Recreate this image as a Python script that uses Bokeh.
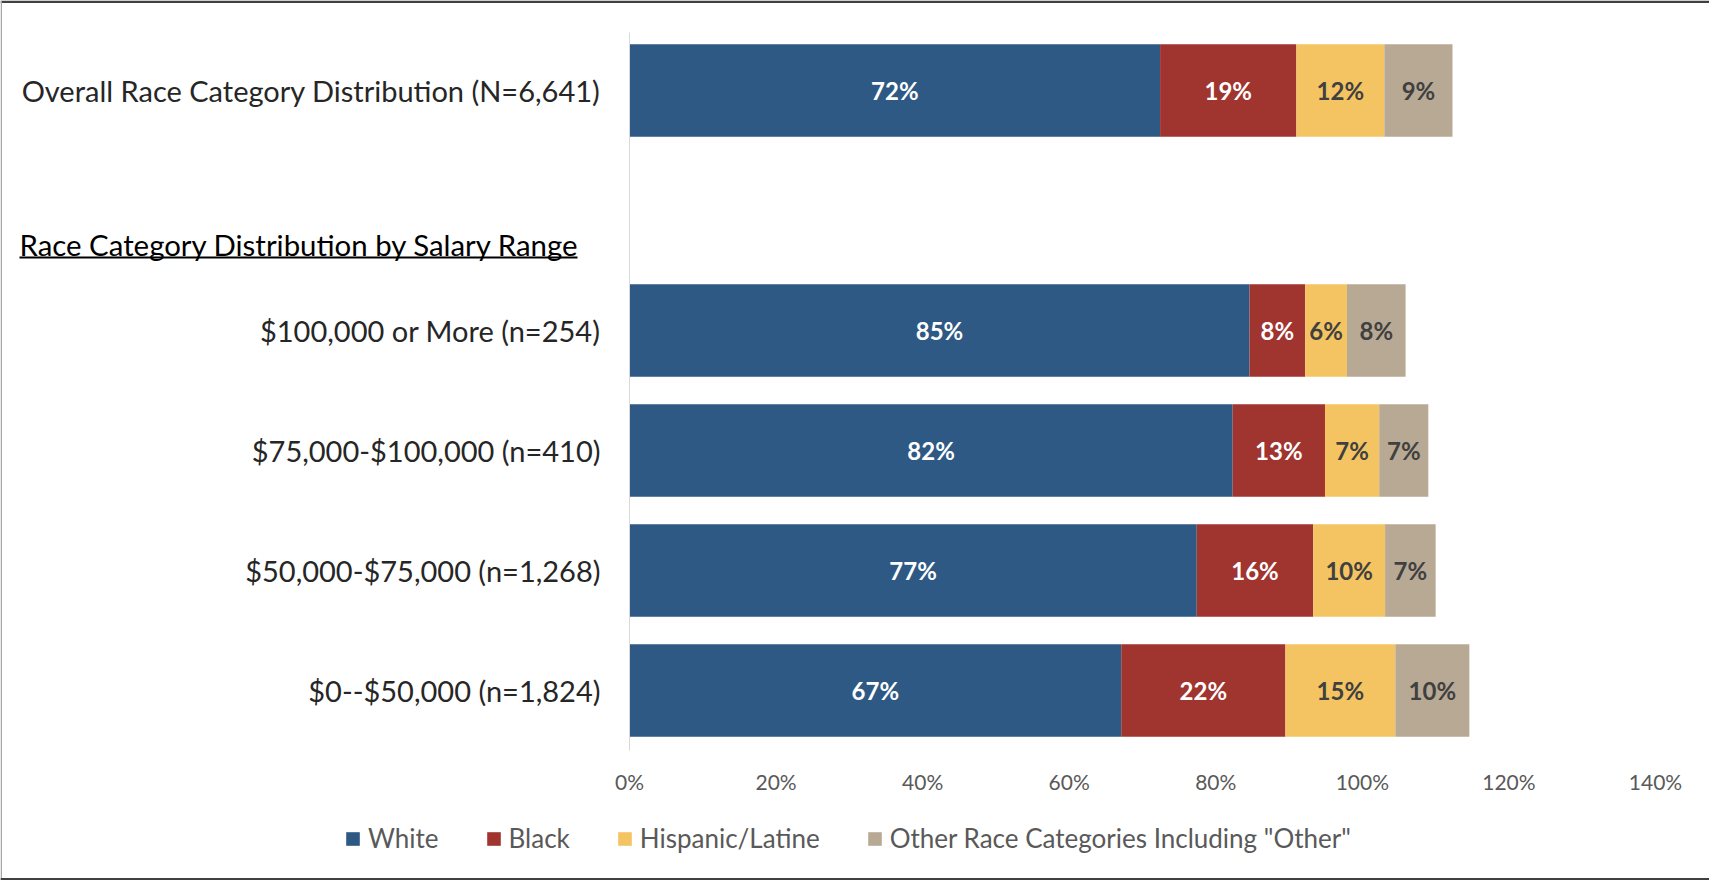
from bokeh.plotting import figure
from bokeh.models import (ColumnDataSource, Range1d, PrintfTickFormatter, LinearAxis,
                          FixedTicker, Label, BoxAnnotation, Legend, LegendItem)
from bokeh.core.properties import value
from bokeh.embed import file_html
from bokeh.resources import INLINE

# ---------------- data ----------------
categories = [
    "$0--$50,000 (n=1,824)",
    "$50,000-$75,000 (n=1,268)",
    "$75,000-$100,000 (n=410)",
    "$100,000 or More (n=254)",
    "Overall Race Category Distribution (N=6,641)",
]
white = [67.1, 77.4, 82.3, 84.6, 72.4]
black = [22.4, 15.9, 12.6, 7.6, 18.6]
hispanic = [15.0, 9.8, 7.4, 5.7, 12.0]
other = [10.1, 6.9, 6.7, 8.0, 9.3]
series_names = ["White", "Black", "Hispanic/Latine", 'Other Race Categories Including "Other"']
x_ticks = [0, 20, 40, 60, 80, 100, 120, 140]
header = "Race Category Distribution by Salary Range"

# ---------------- style / layout ----------------
colors = ["#2E5984", "#A0342F", "#F5C462", "#B8A994"]
label_colors = ["#FFFFFF", "#FFFFFF", "#404040", "#404040"]
FONT = "Lato"

W, H = 1709, 880
FL, FR, FB = 629, 1655, 750      # pixel positions of 0%, 140% and the bars' baseline
SLOT = 120.0                     # pixels per row
XMAX = 140.0

def px_x(px):
    return (px - FL) / (FR - FL) * XMAX

def px_y(py):
    return (FB - py) / SLOT

# rows from bottom to top; an empty row separates the overall bar
rows = categories[:4] + [None] + categories[4:]
ypos = {c: i + 0.5 for i, c in enumerate(rows) if c is not None}

p = figure(width=W, height=H,
           x_range=Range1d(px_x(0), px_x(W)), y_range=Range1d(px_y(H), px_y(0)),
           min_border=0, x_axis_location=None, y_axis_location=None,
           output_backend="svg", toolbar_location=None)
p.outline_line_color = None
p.grid.visible = False
p.background_fill_color = "white"
p.border_fill_color = "white"

fields = ["white", "black", "hispanic", "other"]
src = ColumnDataSource(dict(y=[ypos[c] for c in categories], white=white, black=black,
                            hispanic=hispanic, other=other))
rs = p.hbar_stack(fields, y="y", height=0.77, color=colors, source=src, line_width=0)

# value labels
lx, ly, lt, lc = [], [], [], []
for i, cat in enumerate(categories):
    start = 0.0
    for series, col in zip([white, black, hispanic, other], label_colors):
        v = series[i]
        lx.append(start + v / 2.0)
        ly.append(ypos[cat])
        lt.append(f"{round(v)}%")
        lc.append(col)
        start += v
lsrc = ColumnDataSource(dict(x=lx, y=ly, t=lt, c=lc))
p.text(x="x", y="y", text="t", text_color="c", source=lsrc, text_align="center",
       text_baseline="middle", text_font=value(FONT), text_font_style="bold",
       text_font_size="24px")

# vertical category axis line at 0%
p.segment(x0=[0], y0=[0], x1=[0], y1=[px_y(32)], line_color="#D9D9D9", line_width=1)

# y axis (category labels) fixed at x = 0
yaxis = LinearAxis(fixed_location=0,
                   ticker=FixedTicker(ticks=list(ypos.values())),
                   major_label_overrides={v: k for k, v in ypos.items()})
yaxis.axis_line_color = None
yaxis.major_tick_line_color = None
yaxis.minor_tick_line_color = None
yaxis.major_tick_out = 0
yaxis.major_tick_in = 0
yaxis.major_label_standoff = 29
yaxis.major_label_text_font = FONT
yaxis.major_label_text_font_size = "29px"
yaxis.major_label_text_color = "#262626"
p.add_layout(yaxis, "left")

# x axis fixed at the bottom of the bars
xaxis = LinearAxis(fixed_location=0, ticker=FixedTicker(ticks=x_ticks),
                   formatter=PrintfTickFormatter(format="%d%%"))
xaxis.axis_line_color = None
xaxis.major_tick_line_color = None
xaxis.minor_tick_line_color = None
xaxis.major_tick_out = 0
xaxis.major_tick_in = 0
xaxis.major_label_standoff = 18
xaxis.major_label_text_font = FONT
xaxis.major_label_text_font_size = "21px"
xaxis.major_label_text_color = "#595959"
p.add_layout(xaxis, "below")

# header text + underline
p.add_layout(Label(x=px_x(19), y=px_y(244), text=header, text_font=FONT,
                   text_font_size="29.4px", text_color="#000000",
                   text_baseline="middle", text_align="left"))
p.add_layout(BoxAnnotation(left=px_x(19), right=px_x(577), top=px_y(256), bottom=px_y(258),
                           fill_color="#000000", fill_alpha=1, line_color=None))

# outer border
p.add_layout(BoxAnnotation(left=px_x(0), right=px_x(W), top=px_y(0), bottom=px_y(2.5),
                           fill_color="#404040", fill_alpha=1, line_color=None))
p.add_layout(BoxAnnotation(left=px_x(0), right=px_x(1.5), top=px_y(0), bottom=px_y(H),
                           fill_color="#A6A6A6", fill_alpha=1, line_color=None))
p.add_layout(BoxAnnotation(left=px_x(0), right=px_x(W), top=px_y(H - 2.5), bottom=px_y(H),
                           fill_color="#404040", fill_alpha=1, line_color=None))

# legend
items = [LegendItem(label=n, renderers=[r]) for n, r in zip(series_names, rs)]
legend = Legend(items=items, location=(344, H - 854), orientation="horizontal",
                glyph_width=17, glyph_height=17, label_standoff=7, spacing=46,
                padding=0, margin=0, border_line_color=None, background_fill_alpha=0,
                label_text_font=FONT, label_text_font_size="26px",
                label_text_color="#595959")
p.add_layout(legend, "center")

open("out.html", "w").write(file_html(p, INLINE))
